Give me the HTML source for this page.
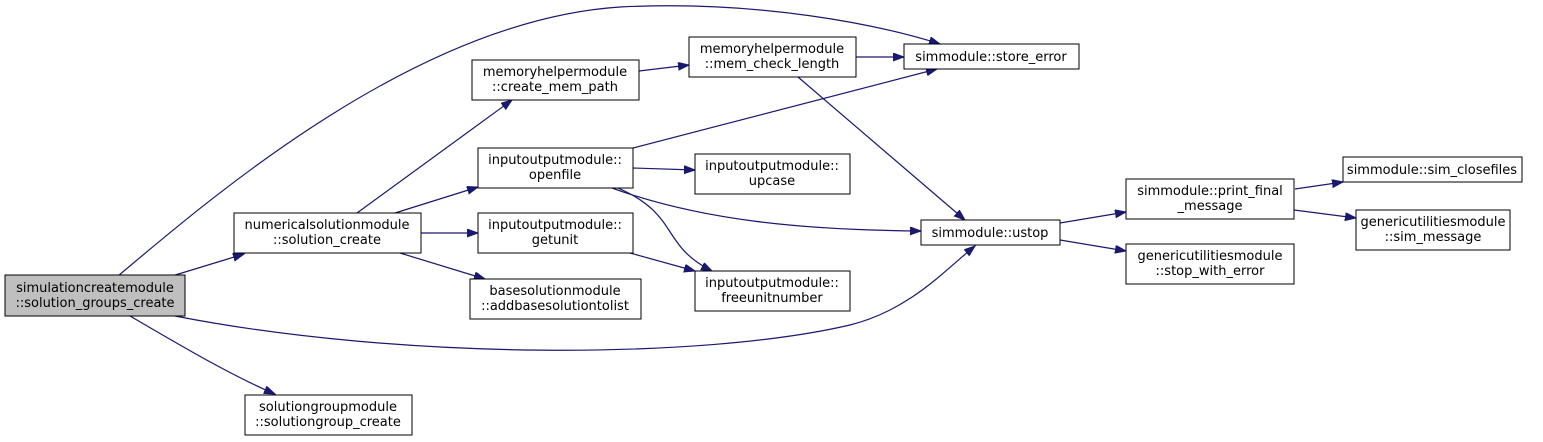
<!DOCTYPE html>
<html><head><meta charset="utf-8"><style>
html,body{margin:0;padding:0;background:#fff;}
svg{display:block;}
text{font-family:"DejaVu Sans","Liberation Sans",sans-serif;font-size:13px;fill:#000;text-anchor:middle;}
.b{fill:#fff;stroke:#000;stroke-width:1;}
.e{fill:none;stroke:#191970;stroke-width:1.2;marker-end:url(#a);}
</style></head><body>
<svg width="1543" height="442" viewBox="0 0 1543 442" xmlns="http://www.w3.org/2000/svg">
<defs><marker id="a" markerUnits="userSpaceOnUse" markerWidth="12" markerHeight="9" refX="11" refY="4" orient="auto"><path d="M0,0 L11,4 L0,8 z" fill="#191970" stroke="#191970"/></marker></defs>
<path class="e" d="M172,276 L244,254"/>
<path class="e" d="M118,276 C220,190 420,20 620,7 C760,0 880,25 940,44"/>
<path class="e" d="M175,316 C400,360 700,360 850,325 C910,310 945,270 975,246"/>
<path class="e" d="M130,316 C180,345 230,375 275,394"/>
<path class="e" d="M357,213 L512,100"/>
<path class="e" d="M395,213 L478,187"/>
<path class="e" d="M421,233 L478,233"/>
<path class="e" d="M400,253 L485,279"/>
<path class="e" d="M639,71 L689,65"/>
<path class="e" d="M856,57 L904,57"/>
<path class="e" d="M798,77 L965,220"/>
<path class="e" d="M633,148 L937,69"/>
<path class="e" d="M633,168 L695,170"/>
<path class="e" d="M612,188 C700,220 800,230 921,231"/>
<path class="e" d="M618,188 C680,215 660,245 712,271"/>
<path class="e" d="M630,253 L695,271"/>
<path class="e" d="M1060,223 L1126,212"/>
<path class="e" d="M1060,240 L1126,251"/>
<path class="e" d="M1295,189 L1343,182"/>
<path class="e" d="M1294,210 L1356,218"/>

<rect x="5" y="275" width="180" height="41" fill="#bfbfbf" stroke="#000"/>
<text x="95" y="292">simulationcreatemodule</text><text x="95" y="307">::solution_groups_create</text>
<rect class="b" x="234" y="213" width="187" height="40"/>
<text x="327" y="229">numericalsolutionmodule</text><text x="327" y="244">::solution_create</text>
<rect class="b" x="245" y="395" width="167" height="40"/>
<text x="328" y="411">solutiongroupmodule</text><text x="328" y="426">::solutiongroup_create</text>
<rect class="b" x="472" y="60" width="167" height="40"/>
<text x="555" y="76">memoryhelpermodule</text><text x="555" y="91">::create_mem_path</text>
<rect class="b" x="478" y="148" width="155" height="40"/>
<text x="555" y="164">inputoutputmodule::</text><text x="555" y="179">openfile</text>
<rect class="b" x="478" y="213" width="155" height="40"/>
<text x="555" y="229">inputoutputmodule::</text><text x="555" y="244">getunit</text>
<rect class="b" x="470" y="279" width="171" height="40"/>
<text x="555" y="295">basesolutionmodule</text><text x="555" y="310">::addbasesolutiontolist</text>
<rect class="b" x="689" y="37" width="167" height="40"/>
<text x="772" y="53">memoryhelpermodule</text><text x="772" y="68">::mem_check_length</text>
<rect class="b" x="695" y="154" width="155" height="40"/>
<text x="772" y="170">inputoutputmodule::</text><text x="772" y="185">upcase</text>
<rect class="b" x="695" y="271" width="155" height="40"/>
<text x="772" y="287">inputoutputmodule::</text><text x="772" y="302">freeunitnumber</text>
<rect class="b" x="904" y="44" width="175" height="25"/>
<text x="991" y="61">simmodule::store_error</text>
<rect class="b" x="921" y="220" width="139" height="25"/>
<text x="990" y="237">simmodule::ustop</text>
<rect class="b" x="1126" y="179" width="168" height="40"/>
<text x="1210" y="195">simmodule::print_final</text><text x="1210" y="210">_message</text>
<rect class="b" x="1126" y="244" width="168" height="40"/>
<text x="1210" y="260">genericutilitiesmodule</text><text x="1210" y="275">::stop_with_error</text>
<rect class="b" x="1343" y="157" width="179" height="25"/>
<text x="1432" y="174">simmodule::sim_closefiles</text>
<rect class="b" x="1356" y="210" width="154" height="40"/>
<text x="1433" y="226">genericutilitiesmodule</text><text x="1433" y="241">::sim_message</text>
</svg>
</body></html>
